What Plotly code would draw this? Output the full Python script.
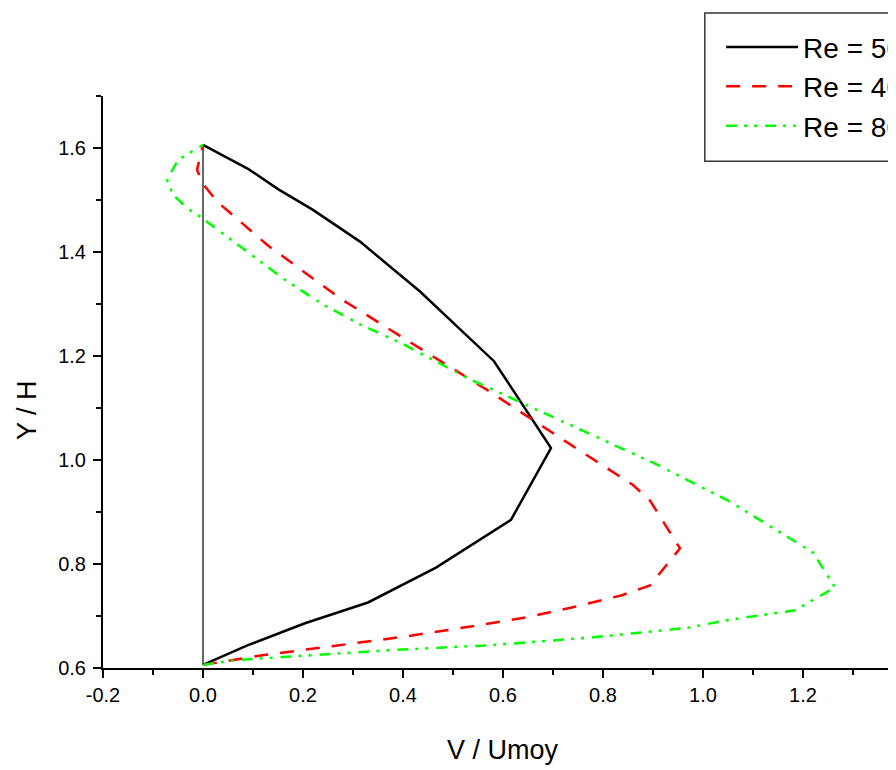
import plotly.graph_objects as go

# ---- data ----
re50_x = [0, 0.09, 0.204, 0.33, 0.466, 0.616, 0.696, 0.582, 0.434, 0.314, 0.22, 0.15, 0.09, 0]
re50_y = [0.606, 0.644, 0.686, 0.726, 0.793, 0.885, 1.023, 1.190, 1.324, 1.420, 1.481, 1.521, 1.560, 1.606]

re40_x = [0, 0.108, 0.258, 0.408, 0.55, 0.65, 0.74, 0.838, 0.894, 0.954, 0.894, 0.86, 0.712,
          0.566, 0.42, 0.274, 0.128, 0.028, 0, -0.012, 0]
re40_y = [0.606, 0.623, 0.642, 0.661, 0.682, 0.698, 0.717, 0.740, 0.759, 0.830, 0.922, 0.952, 1.044,
          1.136, 1.223, 1.311, 1.414, 1.497, 1.531, 1.558, 1.606]

re80_x = [0, 0.064, 0.158, 0.37, 0.578, 0.78, 0.968, 1.048, 1.184, 1.264, 1.22, 1.12, 1.05, 0.904,
          0.76, 0.674, 0.53, 0.40, 0.314, 0.24, 0.16, 0.088, 0.02, -0.006, -0.03, -0.06, -0.072, -0.05, 0]
re80_y = [0.606, 0.615, 0.621, 0.634, 0.644, 0.659, 0.677, 0.692, 0.711, 0.755, 0.822, 0.880, 0.922, 0.993,
          1.056, 1.094, 1.157, 1.223, 1.261, 1.299, 1.349, 1.401, 1.449, 1.468, 1.483, 1.510, 1.539, 1.577, 1.606]

wall_x = [0, 0]
wall_y = [0.606, 1.606]

series_names = ["Re = 50", "Re = 40", "Re = 80"]
x_tickvals = [-0.2, 0.0, 0.2, 0.4, 0.6, 0.8, 1.0, 1.2, 1.4, 1.6]
x_ticktext = ["-0.2", "0.0", "0.2", "0.4", "0.6", "0.8", "1.0", "1.2", "1.4", "1.6"]
y_tickvals = [0.6, 0.8, 1.0, 1.2, 1.4, 1.6]
y_ticktext = ["0.6", "0.8", "1.0", "1.2", "1.4", "1.6"]
x_title = "V / Umoy"
y_title = "Y / H"

FONT = "Liberation Sans, Arial, sans-serif"

fig = go.Figure()
fig.add_trace(go.Scatter(x=wall_x, y=wall_y, mode="lines", showlegend=False,
                         line=dict(color="black", width=1.2), hoverinfo="skip"))
fig.add_trace(go.Scatter(x=re50_x, y=re50_y, mode="lines", name=series_names[0],
                         line=dict(color="black", width=2.5)))
fig.add_trace(go.Scatter(x=re40_x, y=re40_y, mode="lines", name=series_names[1],
                         line=dict(color="#ff0000", width=2.5, dash="14px,12px")))
fig.add_trace(go.Scatter(x=re80_x, y=re80_y, mode="lines", name=series_names[2],
                         line=dict(color="#00ff00", width=2.5, dash="11px,7px,3px,7px,3px,8px")))

axis_common = dict(
    showline=True, linecolor="black", linewidth=2,
    ticks="outside", ticklen=8, tickwidth=2, tickcolor="black",
    showgrid=False, zeroline=False, mirror=False,
    tickfont=dict(family=FONT, size=20, color="black"),
    minor=dict(ticks="outside", ticklen=5, tickwidth=2, tickcolor="black", dtick=0.1, showgrid=False),
)

fig.update_layout(
    width=1000, height=762,
    paper_bgcolor="white", plot_bgcolor="white",
    margin=dict(l=95, r=0, t=88, b=102, autoexpand=False),
    font=dict(family=FONT, color="black"),
    xaxis=dict(range=[-0.2, 1.61], tickmode="array", tickvals=x_tickvals, ticktext=x_ticktext,
               ticklabelstandoff=0, **axis_common),
    yaxis=dict(range=[0.6, 1.7], tickmode="array", tickvals=y_tickvals, ticktext=y_ticktext,
               ticklabelstandoff=3, **axis_common),
    legend=dict(x=0.683, y=1.129, xanchor="left", yanchor="top",
                borderwidth=0, bgcolor="rgba(0,0,0,0)",
                itemwidth=72, font=dict(family=FONT, size=28, color="black")),
    shapes=[dict(type="rect", xref="paper", yref="paper", x0=0.665, x1=1.0, y0=0.886, y1=1.145,
                 line=dict(color="#333333", width=1.5), fillcolor="rgba(0,0,0,0)", layer="above")],
    annotations=[
        dict(text=y_title, xref="paper", yref="paper", x=-0.084, y=0.451,
             xanchor="center", yanchor="middle", textangle=-90, showarrow=False,
             font=dict(family=FONT, size=27, color="black")),
        dict(text=x_title, xref="paper", yref="paper", x=0.442, y=-0.143,
             xanchor="center", yanchor="middle", showarrow=False,
             font=dict(family=FONT, size=27, color="black")),
    ],
)

fig.write_html("out.html")
